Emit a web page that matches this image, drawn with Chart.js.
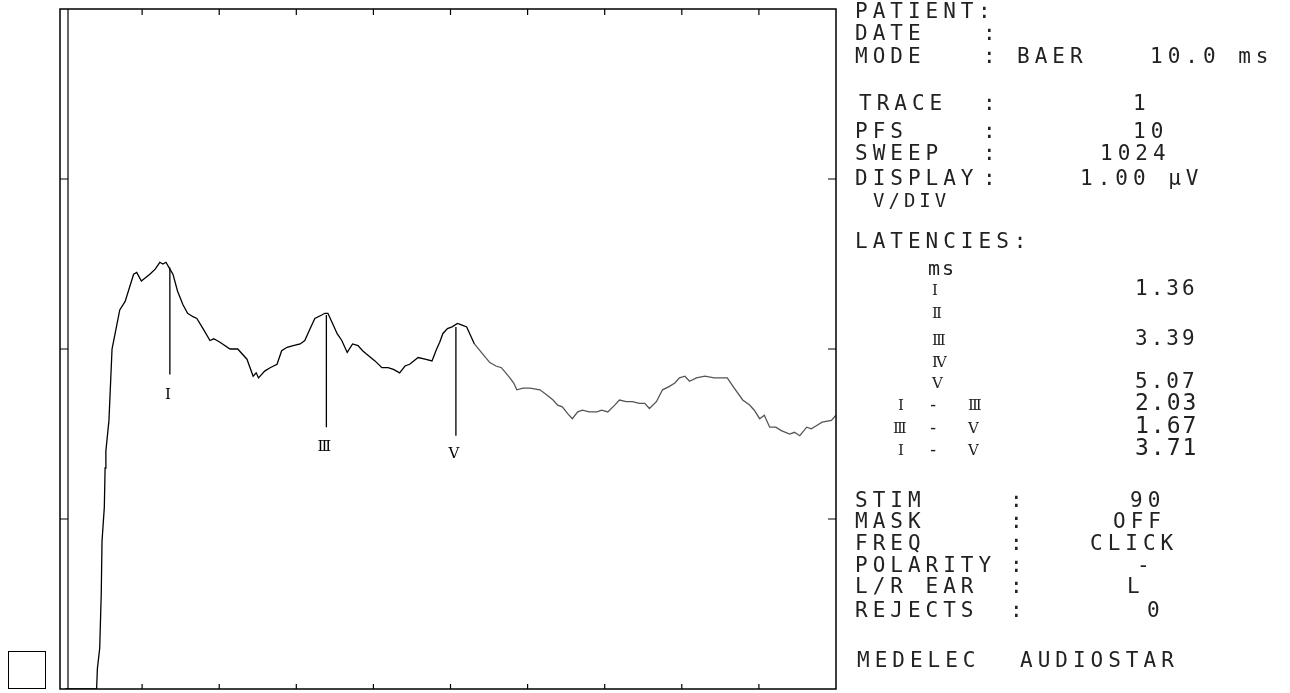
<!DOCTYPE html>
<html><head><meta charset="utf-8">
<script src="https://cdn.jsdelivr.net/npm/chart.js@4"></script>
<style>html,body{margin:0;padding:0;background:#fff;}canvas{display:block}</style>
</head><body>
<canvas id="c" width="1290" height="693"></canvas>
<script>
// ---- waveform (time in ms, amplitude in µV, 1.00 µV/div) ----
const timeMs = [0.00,0.41,0.42,0.45,0.47,0.48,0.51,0.52,0.53,0.57,
0.61,0.71,0.78,0.89,0.93,0.99,1.10,1.17,1.23,1.27,
1.31,1.36,1.40,1.46,1.53,1.59,1.66,1.71,1.79,1.88,
1.93,2.01,2.14,2.24,2.36,2.44,2.48,2.51,2.59,2.66,
2.75,2.81,2.88,2.96,3.05,3.11,3.18,3.24,3.33,3.37,
3.41,3.47,3.53,3.59,3.66,3.73,3.80,3.86,3.91,4.02,
4.11,4.19,4.26,4.34,4.41,4.47,4.58,4.67,4.76,4.82,
4.86,4.90,4.96,5.02,5.09,5.15,5.21,5.26,5.31,5.40,
5.51,5.59,5.66,5.77,5.82,5.86,5.94,6.03,6.16,6.25,
6.33,6.39,6.45,6.52,6.58,6.65,6.71,6.80,6.90,6.96,
7.04,7.13,7.19,7.28,7.36,7.45,7.52,7.58,7.67,7.75,
7.84,7.91,7.97,8.04,8.10,8.19,8.30,8.42,8.59,8.68,
8.79,8.88,8.94,9.01,9.07,9.14,9.22,9.29,9.40,9.46,
9.53,9.62,9.68,9.75,9.82,9.94,10.0];
const amplitudeUv = [-2.00,-2.00,-1.88,-1.76,-1.44,-1.13,-0.93,-0.70,-0.60,-0.42,
0.00,0.23,0.28,0.44,0.45,0.40,0.44,0.47,0.51,0.50,
0.51,0.47,0.44,0.34,0.26,0.21,0.19,0.18,0.12,0.05,
0.06,0.04,0.00,0.00,-0.06,-0.16,-0.14,-0.17,-0.13,-0.11,
-0.09,-0.01,0.01,0.02,0.03,0.05,0.12,0.18,0.20,0.21,
0.21,0.15,0.09,0.05,-0.02,0.03,0.02,-0.01,-0.03,-0.07,
-0.11,-0.11,-0.12,-0.14,-0.10,-0.09,-0.05,-0.06,-0.07,0.00,
0.04,0.09,0.12,0.13,0.15,0.14,0.13,0.08,0.03,-0.02,
-0.08,-0.10,-0.11,-0.17,-0.20,-0.24,-0.23,-0.23,-0.24,-0.27,
-0.30,-0.33,-0.34,-0.38,-0.41,-0.37,-0.36,-0.37,-0.37,-0.36,
-0.37,-0.33,-0.30,-0.31,-0.31,-0.32,-0.32,-0.35,-0.31,-0.24,
-0.22,-0.20,-0.17,-0.16,-0.19,-0.17,-0.16,-0.17,-0.17,-0.23,
-0.30,-0.33,-0.36,-0.41,-0.39,-0.46,-0.46,-0.48,-0.50,-0.49,
-0.51,-0.46,-0.47,-0.45,-0.43,-0.42,-0.39];

const xTickMs = [1,2,3,4,5,6,7,8,9];
const yTickUv = [-1,0,1];

// ---- peak markers ----
const peakNames = ["I","III","V"];
const peakLatencyMs = [1.36,3.39,5.07];
const markerTopUv = [0.48,0.20,0.13];
const markerBottomUv = [-0.15,-0.46,-0.51];
const markerLabelUv = [-0.27,-0.58,-0.62];

// ---- info panel text ----
const headerLabels = ["PATIENT","DATE","MODE","TRACE","PFS","SWEEP","DISPLAY"];
const headerValues = ["","","BAER","1","10","1024","1.00 µV"];
const sweepText = "10.0 ms";
const unitsText = "V/DIV";
const latencyTitle = "LATENCIES:";
const latencyUnit = "ms";
const waveNames = ["I","II","III","IV","V"];
const waveLatencies = ["1.36","","3.39","","5.07"];
const intervalFrom = ["I","III","I"];
const intervalTo = ["III","V","V"];
const intervalValues = ["2.03","1.67","3.71"];
const stimLabels = ["STIM","MASK","FREQ","POLARITY","L/R EAR","REJECTS"];
const stimValues = ["90","OFF","CLICK","-","L","0"];
const footerText = ["MEDELEC","AUDIOSTAR"];

const tracePoints = timeMs.map((t,i)=>({x:t,y:amplitudeUv[i]}));
const markerPoints = [];
peakLatencyMs.forEach((t,i)=>{
  markerPoints.push({x:t,y:markerTopUv[i]},{x:t,y:markerBottomUv[i]},{x:t,y:null});
});

const MONO = "'DejaVu Sans Mono', monospace";
const SERIF = "'DejaVu Serif', serif";

const framePlugin = {
  id:'frame',
  afterDraw(chart){
    const {ctx, chartArea:a, scales:{x,y}} = chart;
    ctx.save();
    ctx.strokeStyle = '#000';
    ctx.lineWidth = 1.5;
    ctx.strokeRect(a.left, a.top, a.right-a.left, a.bottom-a.top);
    // calibration column
    ctx.lineWidth = 1.2;
    ctx.beginPath();
    ctx.moveTo(a.left+8, a.top); ctx.lineTo(a.left+8, a.bottom);
    ctx.stroke();
    ctx.lineWidth = 1.2;
    ctx.beginPath();
    xTickMs.forEach(v=>{
      const px = x.getPixelForValue(v);
      ctx.moveTo(px, a.top); ctx.lineTo(px, a.top+6);
      ctx.moveTo(px, a.bottom); ctx.lineTo(px, a.bottom-5);
    });
    yTickUv.forEach(v=>{
      const py = y.getPixelForValue(v);
      ctx.moveTo(a.left, py); ctx.lineTo(a.left+8, py);
      ctx.moveTo(a.right, py); ctx.lineTo(a.right-8, py);
    });
    ctx.stroke();
    // small square bottom-left
    ctx.lineWidth = 1;
    ctx.strokeRect(8.5, a.bottom-37.5, 37, 37);

    // peak labels
    ctx.fillStyle = '#000';
    ctx.font = '15px '+SERIF;
    ctx.textAlign = 'center';
    ctx.textBaseline = 'middle';
    ctx.letterSpacing = '-2px';
    peakNames.forEach((n,i)=>{
      ctx.fillText(n, x.getPixelForValue(peakLatencyMs[i]) - 3, y.getPixelForValue(markerLabelUv[i]));
    });

    // info panel
    ctx.textAlign = 'left';
    ctx.textBaseline = 'alphabetic';
    ctx.fillStyle = '#222';
    const mono = (s, px, py, size, sp) => {
      ctx.font = (size||21)+'px '+MONO;
      ctx.letterSpacing = (sp===undefined?5:sp)+'px';
      ctx.fillText(s, px, py);
    };
    const serif = (s, px, py) => {
      ctx.font = '15px '+SERIF;
      ctx.letterSpacing = '-2px';
      ctx.fillText(s, px, py);
    };
    const L = 855;
    const headBase = [18,40,63,110,138,160,185];
    const headValX = [0,0,1017,1133,1133,1100,1080];
    headerLabels.forEach((s,i)=>{
      mono(s, i===3 ? L+4 : L, headBase[i]);
      mono(':', i===0 ? 978 : 983, headBase[i], 21, 0);
      if (headerValues[i]) mono(headerValues[i], headValX[i], headBase[i]);
    });
    mono(sweepText, 1150, 63);
    mono(unitsText, 873, 207, 19, 4);

    mono(latencyTitle, L, 248);
    mono(latencyUnit, 928, 275, 20, 2);
    const waveBase = [295,318,345,367,388];
    waveNames.forEach((n,i)=>{
      serif(n, 932, waveBase[i]);
      if (waveLatencies[i]) mono(waveLatencies[i], 1135, waveBase[i], 21, 3);
    });
    const intBase = [410,433,455];
    intervalFrom.forEach((n,i)=>{
      serif(n, n.length>1 ? 893 : 898, intBase[i]);
      mono('-', 928, intBase[i], 17, 0);
      serif(intervalTo[i], 968, intBase[i]);
      mono(intervalValues[i], 1135, intBase[i], 23, 2);
    });

    const stimBase = [507,528,550,572,593,617];
    const stimValX = [1130,1113,1090,1137,1127,1147];
    stimLabels.forEach((s,i)=>{
      mono(s, L, stimBase[i]);
      mono(':', 1010, stimBase[i], 21, 0);
      mono(stimValues[i], stimValX[i], stimBase[i]);
    });
    mono(footerText[0], 857, 667);
    mono(footerText[1], 1020, 667);
    ctx.restore();
  }
};

new Chart(document.getElementById('c'), {
  type:'scatter',
  data:{datasets:[
    {label:'Trace', data:tracePoints, showLine:true, pointRadius:0, borderWidth:1.3,
     borderColor:'#000',
     segment:{borderColor: c => c.p0.parsed.x > 5.3 ? '#555' : '#000'}},
    {label:'Markers', data:markerPoints, showLine:true, spanGaps:false, pointRadius:0,
     borderWidth:1.3, borderColor:'#000'}
  ]},
  options:{
    responsive:false, animation:false, devicePixelRatio:1,
    layout:{padding:{left:60, right:454, top:9, bottom:4}},
    plugins:{legend:{display:false}, tooltip:{enabled:false}},
    scales:{
      x:{type:'linear', min:-0.065, max:10, display:false},
      y:{type:'linear', min:-2, max:2, display:false}
    }
  },
  plugins:[framePlugin]
});
</script>
</body></html>
